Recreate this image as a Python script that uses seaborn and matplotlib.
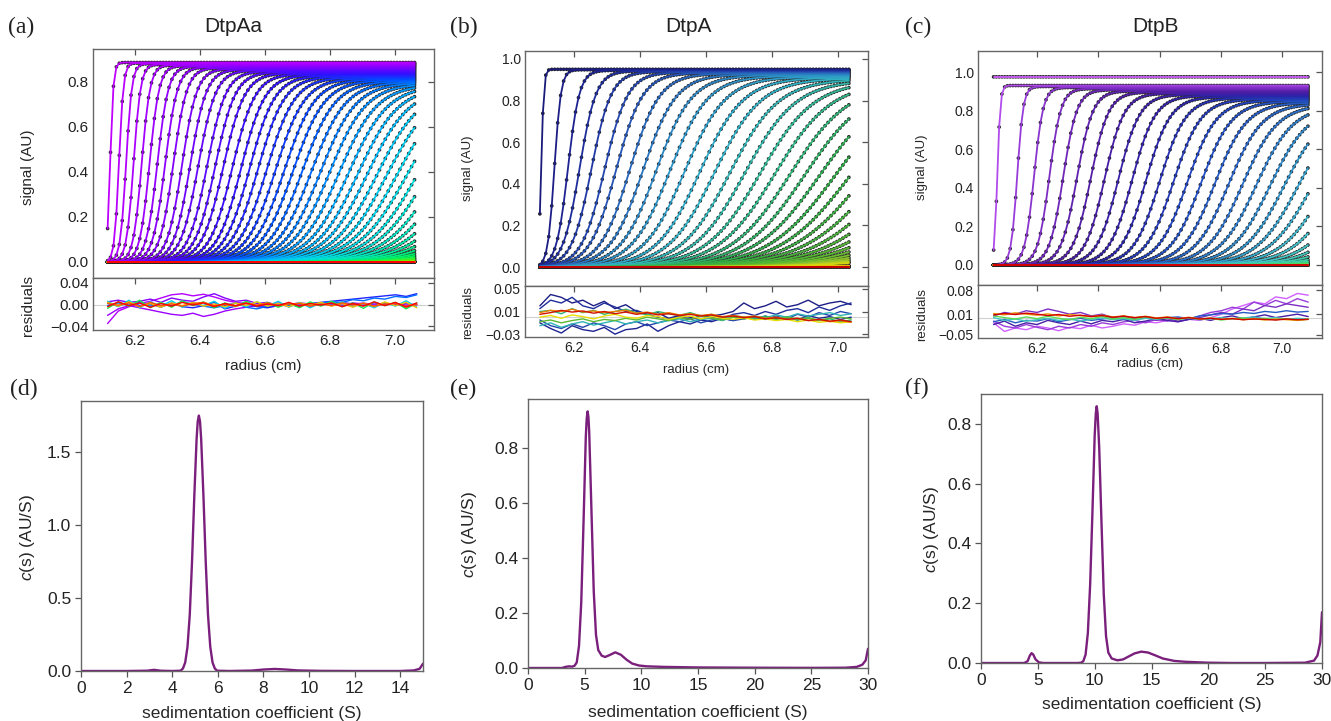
import numpy as np
import pandas as pd
import matplotlib
matplotlib.use('Agg')
import matplotlib.pyplot as plt
from matplotlib.colors import LinearSegmentedColormap
import seaborn as sns

# ---------------- top row: scan boundaries ----------------
# (a) DtpAa : boundary midpoint (cm), boundary width (cm), plateau (AU)
range_a = (6.115, 7.067)
mid_a = [6.123, 6.150, 6.172, 6.195, 6.220, 6.244, 6.268, 6.292, 6.317, 6.344,
         6.369, 6.394, 6.421, 6.446, 6.471, 6.499, 6.526, 6.552, 6.578, 6.605,
         6.632, 6.659, 6.686, 6.714, 6.742, 6.770, 6.798, 6.827, 6.856, 6.885,
         6.914, 6.944, 6.974, 7.004, 7.034, 7.065, 7.096,
         7.128, 7.160, 7.192, 7.225, 7.258, 7.292, 7.326, 7.360, 7.395, 7.430, 7.466,
         7.55, 7.60, 7.65, 7.70, 7.75, 7.80, 7.85, 7.90, 7.95, 8.00, 8.05, 8.10, 8.15, 8.20]
width_a = [0.010, 0.014, 0.018, 0.022, 0.026, 0.030, 0.034, 0.038, 0.042, 0.046,
           0.050, 0.054, 0.058, 0.062, 0.066, 0.070, 0.074, 0.078, 0.082, 0.086,
           0.090, 0.094, 0.098, 0.102, 0.106, 0.110, 0.114, 0.118, 0.122, 0.126,
           0.130, 0.134, 0.138, 0.142, 0.146, 0.150, 0.154, 0.158, 0.162, 0.166,
           0.170, 0.174, 0.178, 0.182, 0.186, 0.190, 0.194, 0.198,
           0.20, 0.20, 0.20, 0.20, 0.20, 0.20, 0.20, 0.20, 0.20, 0.20, 0.20, 0.20, 0.20, 0.20]
plateau_a = [0.885, 0.883, 0.880, 0.877, 0.874, 0.871, 0.868, 0.865, 0.862, 0.858,
             0.855, 0.851, 0.847, 0.843, 0.839, 0.835, 0.831, 0.827, 0.823, 0.819,
             0.815, 0.811, 0.807, 0.803, 0.799, 0.795, 0.791, 0.787, 0.783, 0.779,
             0.775, 0.771, 0.767, 0.763, 0.759, 0.755, 0.751, 0.747, 0.743, 0.739,
             0.735, 0.731, 0.727, 0.723, 0.719, 0.715, 0.711, 0.707,
             0.70, 0.70, 0.70, 0.70, 0.70, 0.70, 0.70, 0.70, 0.70, 0.70, 0.70, 0.70, 0.70, 0.70]

# (b) DtpA
range_b = (6.097, 7.040)
mid_b = [6.101, 6.141, 6.182, 6.217, 6.253, 6.293, 6.328, 6.369, 6.409, 6.449,
         6.490, 6.535, 6.581, 6.626, 6.672, 6.717, 6.763, 6.808, 6.854, 6.899,
         6.944, 6.990, 7.035,
         7.080, 7.125, 7.170, 7.215, 7.260, 7.305, 7.350, 7.395, 7.440, 7.485, 7.530, 7.575, 7.620,
         7.80, 7.85, 7.90, 7.95, 8.00, 8.05, 8.10, 8.15, 8.20, 8.25, 8.30, 8.35]
width_b = [0.008, 0.020, 0.035, 0.050, 0.060, 0.070, 0.080, 0.090, 0.100, 0.108,
           0.116, 0.124, 0.132, 0.140, 0.148, 0.156, 0.164, 0.172, 0.180, 0.188,
           0.196, 0.204, 0.212,
           0.220, 0.228, 0.236, 0.244, 0.252, 0.260, 0.268, 0.276, 0.284, 0.292, 0.300, 0.308, 0.316,
           0.32, 0.32, 0.32, 0.32, 0.32, 0.32, 0.32, 0.32, 0.32, 0.32, 0.32, 0.32]
plateau_b = [0.950, 0.948, 0.945, 0.942, 0.939, 0.936, 0.933, 0.930, 0.926, 0.922,
             0.918, 0.914, 0.910, 0.906, 0.902, 0.898, 0.894, 0.890, 0.886, 0.882,
             0.878, 0.874, 0.870,
             0.866, 0.862, 0.858, 0.854, 0.850, 0.846, 0.842, 0.838, 0.834, 0.830, 0.826, 0.822, 0.818,
             0.815, 0.815, 0.815, 0.815, 0.815, 0.815, 0.815, 0.815, 0.815, 0.815, 0.815, 0.815]

# (c) DtpB
range_c = (6.058, 7.085)
mid_c = [5.90,
         6.070, 6.135, 6.190, 6.240, 6.285, 6.330, 6.375, 6.420, 6.465, 6.510,
         6.555, 6.600, 6.645, 6.690, 6.735, 6.780, 6.825, 6.870, 6.915, 6.960, 7.005,
         7.050, 7.095, 7.140, 7.185, 7.230, 7.275, 7.320, 7.365, 7.410, 7.455, 7.500, 7.545,
         7.70, 7.75, 7.80, 7.85, 7.90, 7.95, 8.00, 8.05, 8.10, 8.15, 8.20, 8.25]
width_c = [0.010,
           0.010, 0.020, 0.030, 0.038, 0.045, 0.052, 0.058, 0.064, 0.070, 0.075,
           0.080, 0.085, 0.090, 0.095, 0.100, 0.105, 0.110, 0.115, 0.120, 0.125, 0.130,
           0.135, 0.140, 0.145, 0.150, 0.155, 0.160, 0.165, 0.170, 0.175, 0.180, 0.185, 0.190,
           0.20, 0.20, 0.20, 0.20, 0.20, 0.20, 0.20, 0.20, 0.20, 0.20, 0.20, 0.20]
plateau_c = [0.975,
             0.930, 0.925, 0.920, 0.914, 0.908, 0.902, 0.896, 0.890, 0.884, 0.878,
             0.872, 0.866, 0.860, 0.854, 0.848, 0.842, 0.836, 0.830, 0.824, 0.818, 0.812,
             0.806, 0.800, 0.794, 0.788, 0.782, 0.776, 0.770, 0.764, 0.758, 0.752, 0.746, 0.740,
             0.735, 0.735, 0.735, 0.735, 0.735, 0.735, 0.735, 0.735, 0.735, 0.735, 0.735, 0.735]

# residual traces (x 0.001 AU), 30 points across the data range; key = scan index
res_a = {
    2:  [-35, -12, -4, 2, 6, 12, 18, 20, 16, 19, 14, 8, 4, 2, -2, 0, 3, -1, 2, -3, 1, 0, -2, 3, 1, -1, 2, 0, -2, 1],
    5:  [-20, -8, -2, -6, -10, -14, -18, -20, -16, -22, -18, -12, -8, -5, -2, -4, 0, -3, 1, -2, 0, 2, -1, 0, 3, -1, 0, 2, -1, 0],
    8:  [5, 8, 4, 6, 10, 4, 12, 8, 6, 14, 20, 12, 6, 8, 2, 4, -2, 0, 3, 1, -1, 2, 4, 1, -2, 3, 0, 1, 2, -1],
    18: [2, -3, 4, -2, 1, -5, 3, -4, -6, -2, 4, -8, -3, 2, -4, -6, -2, 0, -3, 2, 4, 6, 8, 10, 12, 14, 16, 18, 15, 20],
    24: [-2, 3, -1, 4, -3, 2, -2, 5, 1, -3, -6, -2, 3, -5, -8, -3, 1, -2, 2, -1, 3, 5, 4, 9, 7, 12, 10, 15, 13, 18],
    33: [6, -4, 8, -6, 5, -3, 7, -5, 4, -2, 6, -7, 3, -4, 5, -3, 6, -5, 4, -6, 3, -2, 5, -4, 2, -6, 4, -3, 7, -5],
    45: [-7, 5, -3, 8, -6, 4, -5, 7, -2, 5, -6, 3, -4, 6, -3, 4, -5, 2, -6, 5, -3, 6, -4, 3, -7, 5, -2, 4, -8, 3],
    54: [4, -3, 5, -4, 2, -5, 3, -2, 4, -3, 1, -4, 3, -2, 5, -3, 2, -4, 3, -1, 4, -3, 2, -5, 3, -4, 5, -2, 4, -6],
    58: [2, -1, 3, -4, 4, -2, 1, -3, 2, 4, -2, 0, -3, 2, -1, 3, -2, 1, 2, -3, 1, -2, 3, -1, 2, -3, 1, 2, -3, 0],
    61: [-4, 5, -2, 3, -5, 2, -3, 4, -1, 3, -4, 2, -2, 3, -3, 1, -2, 4, -3, 2, -1, 3, -4, 2, -3, 5, -2, 4, -5, 3],
}
res_b = {
    1:  [20, 40, 35, 25, 30, 20, 28, 15, 22, 10, 5, 8, -2, 3, 0, -5, 2, 5, 10, 25, 15, 20, 28, 18, 22, 30, 20, 25, 28, 22],
    2:  [-10, -20, -28, -15, -22, -25, -18, -30, -22, -20, -12, -25, -15, -8, -12, -5, -8, -2, -6, 0, -4, 2, -3, 0, -5, 3, -2, 1, -4, 0],
    3:  [15, 30, 25, 35, 20, 15, 25, 18, 10, 12, 5, 0, -3, 2, -4, 3, 0, -2, 5, 8, 3, 10, 5, 12, 15, 8, 18, 12, 20, 25],
    5:  [-5, -15, -20, -12, -18, -10, -15, -22, -12, -8, -15, -10, -5, -8, -3, -10, -5, -2, -6, -3, 0, -4, 2, -3, 5, 0, 8, 3, 10, 6],
    14: [-15, -10, -18, -12, -8, -14, -10, -6, -12, -8, -5, -10, -6, -3, -8, -4, -2, -6, 0, -3, 2, -1, 4, 0, 6, 2, 5, 8, 3, 6],
    18: [10, 12, 6, 15, 8, 12, 5, 10, 14, 8, 4, 10, 6, 3, 8, 2, 5, -2, 3, 0, -3, 2, -4, 0, -5, -2, -6, -3, -8, -5],
    28: [-8, -5, -10, -6, -3, -8, -4, -6, -2, -5, 0, -3, -6, -1, -4, 2, -2, -5, 0, -3, 1, -2, -4, 0, -3, -1, -5, -2, 0, -3],
    36: [0, 3, -2, 4, 1, -3, 2, 5, 0, -2, 3, 1, -4, 0, 2, -3, 1, -2, -4, -1, -5, -3, -6, -4, -8, -5, -9, -7, -10, -8],
    42: [8, 12, 10, 14, 9, 11, 8, 10, 12, 7, 9, 5, 8, 4, 6, 3, 5, 1, 3, 0, 2, -2, 0, -4, -2, -6, -4, -8, -6, -9],
    46: [5, 8, 12, 9, 11, 7, 10, 6, 9, 5, 8, 4, 6, 3, 5, 2, 4, 0, 2, -1, 1, -3, -1, -4, -2, -6, -4, -7, -5, -8],
}
res_c = {
    0:  [-15, -40, -30, -35, -25, -30, -38, -28, -32, -22, -30, -25, -18, -22, -12, -15, -8, -12, -5, -8, 0, 10, 25, 35, 45, 40, 60, 55, 70, 65],
    2:  [-10, -25, -30, -20, -28, -35, -25, -30, -20, -25, -15, -20, -12, -8, -15, -5, -10, 0, -5, 5, 15, 20, 30, 25, 45, 35, 50, 40, 55, 45],
    4:  [5, 15, 10, 20, 15, 25, 18, 10, 15, 5, 10, 0, 5, -5, 0, -8, -3, -10, -5, 0, 8, 15, 10, 25, 20, 35, 30, 40, 35, 30],
    8:  [-20, -10, -25, -15, -20, -8, -15, -20, -10, -18, -8, -12, -5, -15, -10, -3, -8, -12, -5, -2, -8, 0, 5, -3, 2, 8, 0, 5, 10, 3],
    16: [-12, -5, -15, -8, -10, -3, -12, -6, -2, -8, -4, 0, -6, -2, 3, -4, 0, 2, -3, 5, 8, 12, 10, 15, 12, 18, 15, 20, 16, 18],
    26: [0, -8, -4, -10, -6, -2, -8, -4, -10, -5, -1, -6, -3, -8, -2, -5, 0, -4, -1, -6, -3, 0, -4, -1, 2, -3, 0, -5, -2, -4],
    34: [5, 0, -4, 2, -3, 4, -2, -6, 1, -3, 3, -4, 0, -5, 2, -3, -1, -6, 0, -4, -2, -7, -3, -1, -5, -2, -6, -3, -8, -4],
    40: [12, 8, 14, 10, 7, 11, 5, 9, 6, 3, 7, 2, 5, 0, 4, -1, 2, -3, 1, -4, -1, -5, -2, -6, -3, -7, -4, -6, -8, -5],
    45: [8, 12, 9, 13, 10, 6, 9, 4, 7, 3, 6, 1, 4, 0, 3, -2, 1, -3, 0, -4, -2, -5, -3, -6, -4, -5, -7, -4, -6, -5],
}

# ---------------- bottom row: c(s) distributions ----------------
s_d = [0, 2.0, 2.9, 3.2, 3.5, 4.0, 4.37, 4.47, 4.57, 4.67, 4.77, 4.87, 4.97, 5.07, 5.12, 5.17,
       5.22, 5.27, 5.37, 5.47, 5.57, 5.67, 5.77, 5.87, 5.97, 6.5, 7.5, 8.0, 8.5, 9.0, 9.5,
       10.5, 12.0, 14.0, 14.6, 14.85, 15.0]
c_d = [0, 0, 0.002, 0.008, 0.002, 0, 0.002, 0.017, 0.058, 0.165, 0.385, 0.75, 1.20, 1.59, 1.71, 1.75,
       1.71, 1.59, 1.20, 0.75, 0.385, 0.165, 0.058, 0.017, 0.002, 0, 0.003, 0.010, 0.014, 0.010, 0.004,
       0.001, 0, 0, 0.004, 0.015, 0.05]
s_e = [0, 3.0, 3.3, 3.6, 3.9, 4.1, 4.3, 4.5, 4.7, 4.9, 5.1, 5.18, 5.26, 5.33, 5.4, 5.6, 5.8, 6.0,
       6.2, 6.5, 6.8, 7.2, 7.7, 8.2, 8.7, 9.2, 9.8, 10.5, 12.0, 15.0, 20.0, 25.0, 28.0, 29.0,
       29.5, 29.8, 30.0]
c_e = [0, 0, 0.004, 0.006, 0.005, 0.008, 0.02, 0.08, 0.24, 0.53, 0.84, 0.907, 0.933, 0.913, 0.86,
       0.57, 0.28, 0.12, 0.065, 0.045, 0.04, 0.047, 0.057, 0.048, 0.03, 0.016, 0.009, 0.006, 0.004,
       0.002, 0.001, 0.0005, 0.001, 0.004, 0.012, 0.028, 0.07]
s_f = [0, 3.8, 4.1, 4.3, 4.45, 4.6, 4.8, 5.1, 5.5, 8.5, 8.8, 9.0, 9.2, 9.4, 9.6, 9.8, 10.0, 10.1,
       10.18, 10.26, 10.4, 10.6, 10.8, 11.0, 11.2, 11.5, 12.0, 12.5, 13.0, 13.5, 14.1, 14.7, 15.3,
       16.0, 17.0, 18.0, 20.0, 22.0, 25.0, 28.5, 29.3, 29.6, 29.85, 30.0]
c_f = [0, 0, 0.006, 0.025, 0.033, 0.028, 0.012, 0.002, 0, 0, 0.001, 0.006, 0.028, 0.10, 0.26, 0.50,
       0.76, 0.835, 0.859, 0.835, 0.72, 0.47, 0.23, 0.09, 0.035, 0.015, 0.009, 0.012, 0.022, 0.032,
       0.038, 0.035, 0.026, 0.015, 0.007, 0.004, 0.001, 0, 0, 0.001, 0.008, 0.025, 0.07, 0.17]

# colour ramps used for the scans
cmap_a = LinearSegmentedColormap.from_list('a', [
    (0.0, '#c000ff'), (0.12, '#8a00ff'), (0.26, '#3010ff'), (0.36, '#0050ff'), (0.46, '#00a8ff'),
    (0.55, '#00d8e8'), (0.64, '#00e8b0'), (0.72, '#00f060'), (0.80, '#60f000'), (0.86, '#e8e800'),
    (0.93, '#ff8000'), (1.0, '#ff0000')])
cmap_b = LinearSegmentedColormap.from_list('b', [
    (0.0, '#1a1a7a'), (0.05, '#1e2596'), (0.12, '#2450b4'), (0.20, '#2c8cc4'), (0.27, '#30b0c8'),
    (0.35, '#30b890'), (0.44, '#2eaa48'), (0.60, '#5cb830'), (0.70, '#a8c828'), (0.78, '#f0e000'),
    (0.88, '#f09000'), (0.95, '#e83000'), (1.0, '#c00000')])
cmap_c = LinearSegmentedColormap.from_list('c', [
    (0.0, '#d060ff'), (0.03, '#a040e0'), (0.09, '#7a2cc0'), (0.16, '#4e1ca4'), (0.24, '#2a24a8'),
    (0.32, '#2048c0'), (0.40, '#2a70c8'), (0.48, '#3098c8'), (0.56, '#40c0c8'), (0.66, '#40d0a0'),
    (0.74, '#40d860'), (0.82, '#c0e020'), (0.90, '#f09000'), (1.0, '#d00000')])

sns.set_theme(style='white')
plt.rcParams['font.family'] = ['Liberation Sans', 'DejaVu Sans']
plt.rcParams['mathtext.fontset'] = 'custom'
plt.rcParams['mathtext.it'] = 'Liberation Sans:italic'
plt.rcParams['mathtext.rm'] = 'Liberation Sans'
plt.rcParams['text.color'] = '#222222'

W, H = 1331, 721
fig = plt.figure(figsize=(W / 100, H / 100), dpi=100)


def box(l, t, r, b):
    return [l / W, 1 - b / H, (r - l) / W, (b - t) / H]


def style(ax, fs, inward=True):
    for s in ax.spines.values():
        s.set_color('#666666')
        s.set_linewidth(1.0)
    if inward:
        ax.tick_params(direction='in', length=4, width=0.9, color='#555555', top=True, right=True,
                       labelsize=fs, pad=3, labelcolor='#222222')
    else:
        ax.tick_params(direction='out', length=4, width=0.9, color='#555555', labelsize=fs, pad=3,
                       labelcolor='#222222', left=True, bottom=True)


def scan_frame(mids, widths, plateaus, rng):
    r = np.arange(rng[0], rng[1] + 1e-9, 0.009)
    parts = []
    for i, (m, w, p) in enumerate(zip(mids, widths, plateaus)):
        y = p * 0.5 * (1 + np.tanh((r - m) / w))
        parts.append(pd.DataFrame({'radius': r, 'signal': y, 'scan': i}))
    return pd.concat(parts, ignore_index=True)


def res_frame(res, rng):
    r = np.linspace(rng[0], rng[1], 30)
    parts = [pd.DataFrame({'radius': r, 'res': np.array(v) / 1000, 'scan': k}) for k, v in res.items()]
    return pd.concat(parts, ignore_index=True)


def scan_panel(main_box, res_box, mids, widths, plateaus, rng, res, cmap, xlim, ylim, rylim,
               rticks, fs, lfs, ylab_x, ylab_y, rlab_y, xlab_y):
    ax = fig.add_axes(box(*main_box))
    rax = fig.add_axes(box(*res_box), sharex=ax)
    n = len(mids)
    df = scan_frame(mids, widths, plateaus, rng)
    sns.scatterplot(data=df, x='radius', y='signal', color='#262626', s=7, edgecolor='none',
                    linewidth=0, ax=ax, zorder=2, legend=False)
    sns.lineplot(data=df, x='radius', y='signal', hue='scan', palette=cmap, hue_norm=(0, n - 1),
                 estimator=None, legend=False, lw=1.3, ax=ax, zorder=3)
    rdf = res_frame(res, rng)
    rax.axhline(0, color='#d0d0d0', lw=0.8, zorder=0)
    sns.lineplot(data=rdf, x='radius', y='res', hue='scan', palette=cmap, hue_norm=(0, n - 1),
                 estimator=None, legend=False, lw=1.0, ax=rax)
    ax.set_xlim(*xlim)
    ax.set_ylim(*ylim)
    rax.set_ylim(*rylim)
    ax.set_xticks([6.2, 6.4, 6.6, 6.8, 7.0])
    ax.set_yticks([0.0, 0.2, 0.4, 0.6, 0.8] + ([1.0] if ylim[1] > 1.0 else []))
    ax.set_yticklabels([f'{v:.1f}' for v in ax.get_yticks()])
    rax.set_yticks(rticks)
    rax.set_yticklabels([f'{v:.2f}'.replace('-', '\u2212') for v in rticks])
    rax.set_xticklabels(['6.2', '6.4', '6.6', '6.8', '7.0'])
    style(ax, fs)
    style(rax, fs)
    ax.tick_params(labelbottom=False)
    ax.set_xlabel('')
    ax.set_ylabel('signal (AU)', fontsize=lfs, va='center')
    ax.yaxis.set_label_coords(ylab_x, ylab_y)
    rax.set_ylabel('residuals', fontsize=lfs, va='center')
    rax.yaxis.set_label_coords(ylab_x, rlab_y)
    rax.set_xlabel('radius (cm)', fontsize=lfs, va='center')
    rax.xaxis.set_label_coords(0.5, xlab_y)
    return ax, rax


scan_panel((93, 49, 434, 278), (93, 278, 434, 330), mid_a, width_a, plateau_a, range_a, res_a,
           cmap_a, (6.07, 7.12), (-0.071, 0.945), (-0.047, 0.049), [-0.04, 0.0, 0.04],
           11, 11, -0.19, 0.485, 0.48, -0.69)
scan_panel((525, 51, 868, 286), (525, 286, 868, 337), mid_b, width_b, plateau_b, range_b, res_b,
           cmap_b, (6.052, 7.091), (-0.091, 1.038), (-0.035, 0.055), [-0.03, 0.01, 0.05],
           10, 9.5, -0.166, 0.50, 0.49, -0.647)
scan_panel((978, 51, 1322, 285), (978, 285, 1322, 338), mid_c, width_c, plateau_c, range_c, res_c,
           cmap_c, (6.007, 7.13), (-0.104, 1.109), (-0.059, 0.0945), [-0.05, 0.01, 0.08],
           10, 9.5, -0.163, 0.504, 0.45, -0.49)


def cs_panel(bx, s, c, xlim, ylim, xticks, yticks, ylab_x, xlab_y):
    ax = fig.add_axes(box(*bx))
    cs = pd.DataFrame({'s': s, 'c': c})
    sns.lineplot(data=cs, x='s', y='c', color='#7a1f7c', lw=1.7, ax=ax, estimator=None)
    ax.set_xlim(*xlim)
    ax.set_ylim(*ylim)
    ax.set_xticks(xticks)
    ax.set_xticklabels([str(v) for v in xticks])
    ax.set_yticks(yticks)
    ax.set_yticklabels([f'{v:.1f}' for v in yticks])
    style(ax, 12.5, inward=False)
    ax.set_ylabel(r'$c$(s) (AU/S)', fontsize=12.5, va='center')
    ax.yaxis.set_label_coords(ylab_x, 0.495)
    ax.set_xlabel('sedimentation coefficient (S)', fontsize=12.5, va='center')
    ax.xaxis.set_label_coords(0.5, xlab_y)
    return ax


cs_panel((81, 401, 423, 671), s_d, c_d, (0, 15), (0, 1.85), list(range(0, 15, 2)),
         [0.0, 0.5, 1.0, 1.5], -0.155, -0.156)
cs_panel((528, 399, 868, 668), s_e, c_e, (0, 30), (0, 0.978), list(range(0, 31, 5)),
         [0.0, 0.2, 0.4, 0.6, 0.8], -0.171, -0.167)
cs_panel((981, 394, 1322, 663), s_f, c_f, (0, 30), (0, 0.90), list(range(0, 31, 5)),
         [0.0, 0.2, 0.4, 0.6, 0.8], -0.144, -0.156)

# titles and panel letters
for x, t in [(233, 'DtpAa'), (688, 'DtpA'), (1155, 'DtpB')]:
    fig.text(x / W, 1 - 27 / H, t, ha='center', va='center', fontsize=15)
for x, y, t in [(8, 27, '(a)'), (450, 27, '(b)'), (905, 27, '(c)'),
                (10, 389, '(d)'), (450, 389, '(e)'), (905, 388, '(f)')]:
    fig.text(x / W, 1 - y / H, t, ha='left', va='center', fontsize=17,
             family=['Liberation Serif', 'DejaVu Serif'])

fig.savefig('out.png', dpi=100)
